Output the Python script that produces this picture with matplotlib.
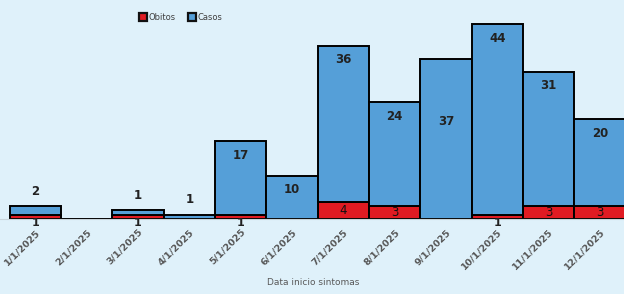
import numpy as np
import matplotlib
matplotlib.use("Agg")
import matplotlib.pyplot as plt
from matplotlib.lines import Line2D

# data
fechas = ["1/1/2025", "2/1/2025", "3/1/2025", "4/1/2025", "5/1/2025", "6/1/2025",
          "7/1/2025", "8/1/2025", "9/1/2025", "10/1/2025", "11/1/2025", "12/1/2025"]
obitos = [1, 0, 1, 0, 1, 0, 4, 3, 0, 1, 3, 3]
casos = [2, 0, 1, 1, 17, 10, 36, 24, 37, 44, 31, 20]

bg = "#dff1fa"
azul = "#559fd8"
rojo = "#e01b22"

fig = plt.figure(figsize=(6.24, 2.94), dpi=100, facecolor=bg)
ax = fig.add_axes([0, 0.255, 1, 0.745], facecolor=bg)

x = np.arange(len(fechas))
ob = np.array(obitos)
ca = np.array(casos)

ax.bar(x, ob, width=1.0, color=rojo, edgecolor="black", linewidth=1.4, zorder=2)
ax.bar(x, ca, width=1.0, bottom=ob, color=azul, edgecolor="black", linewidth=1.4, zorder=2)

# obitos labels
for xi, v in zip(x, ob):
    if v == 1:
        ax.annotate(str(v), (xi, 0), xytext=(0, -3), textcoords="offset points",
                    ha="center", va="center", fontsize=8, fontweight="bold",
                    color="#222222", zorder=3, annotation_clip=False)
    elif v > 1:
        ax.text(xi, v / 2, str(v), ha="center", va="center", fontsize=8.5,
                fontweight="medium", color="#111111", zorder=3)

# casos labels
for xi, v, b in zip(x, ca, ob):
    if v == 0:
        continue
    top = v + b
    if v <= 2:
        ax.annotate(str(v), (xi, top), xytext=(0, 6), textcoords="offset points",
                    ha="center", va="bottom", fontsize=8.5, fontweight="bold", color="#222222")
    elif fechas[xi] == "9/1/2025":
        ax.text(xi, b + v * 0.61, str(v), ha="center", va="center",
                fontsize=8.5, fontweight="bold", color="#222222")
    else:
        ax.annotate(str(v), (xi, top), xytext=(0, -10), textcoords="offset points",
                    ha="center", va="center", fontsize=8.5, fontweight="bold", color="#222222")

ax.set_xlim(-0.69, 11.47)
ax.set_ylim(0, 50.6)
ax.set_yticks([])
ax.set_xticks(x)
ax.set_xticklabels(fechas, rotation=45, ha="right", rotation_mode="anchor",
                   fontsize=6.8, fontweight="bold", color="#555555")
ax.tick_params(axis="x", length=0, pad=6)
for s in ["top", "left", "right"]:
    ax.spines[s].set_visible(False)
ax.spines["bottom"].set_color("#c8d4da")
ax.spines["bottom"].set_linewidth(0.8)

fig.text(0.502, 0.024, "Data inicio sintomas", ha="center", va="bottom",
         fontsize=6.5, color="#595959")

handles = [Line2D([], [], marker="s", ls="", markersize=5.5, markerfacecolor=rojo,
                  markeredgecolor="#111111", markeredgewidth=1.6, label="Obitos"),
           Line2D([], [], marker="s", ls="", markersize=5.5, markerfacecolor=azul,
                  markeredgecolor="#111111", markeredgewidth=1.6, label="Casos")]
fig.legend(handles=handles, loc="center", bbox_to_anchor=(0.29, 0.94), ncol=2,
           frameon=False, fontsize=6, handlelength=0.8, handletextpad=0.2,
           columnspacing=1.6, labelcolor="#404040")

fig.savefig("out.png", dpi=100, facecolor=bg)
